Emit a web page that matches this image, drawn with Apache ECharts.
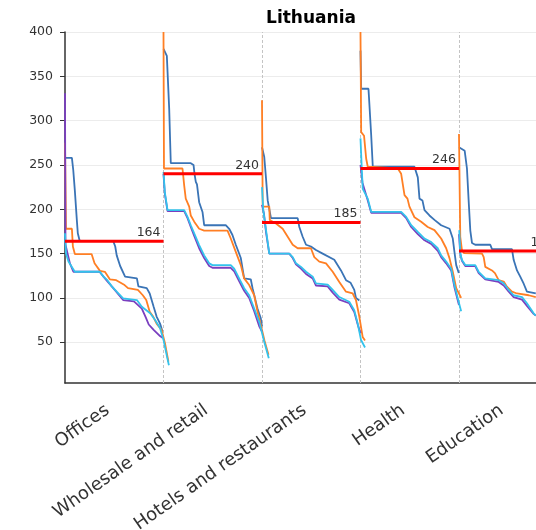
<!DOCTYPE html>
<html>
<head>
<meta charset="utf-8">
<script src="https://cdn.jsdelivr.net/npm/echarts@6/dist/echarts.min.js"></script>
<style>
  html, body { margin: 0; padding: 0; background: #fff; }
  #chart { width: 536px; height: 530px; }
</style>
</head>
<body>
<div id="chart"></div>
<script>
// Sector categories along the x axis; each one owns a band of width 1.
const categories = ['Offices', 'Wholesale and retail', 'Hotels and restaurants', 'Health', 'Education'];

// Reference level drawn as a red bar across each band.
const meanValues = [164, 240, 185, 246, 153];

// Y axis tick labels.
const yTicks = [50, 100, 150, 200, 250, 300, 350, 400];

// Portion of the band axis that fits in the view (the last band runs past the edge).
const visibleBands = 4.782;

// Sorted (duration) curves per sector: [position within band in %, value].
const blueCurves = [
  [[0,258],[7,258],[8.4,244],[10,221],[12,188],[13,173],[15,164],[49,164],[51,158],[52.5,148],[56,136],[61,124],[73,122],[74.5,113],[83,111],[86,105],[90,90],[93,79],[96.5,71],[99,62]],
  [[0,381],[3.4,373],[5.8,313],[7.4,252],[27.7,252],[30.5,250],[31.5,240],[32.8,231],[34,228],[36.2,208],[38,206],[39.6,197],[41.3,182],[63.2,182],[66.7,178],[70,171],[73.4,160],[78.5,145],[81.9,122],[88.6,121],[90.4,111],[95.4,88],[98.8,77],[100,68]],
  [[0,270],[2.3,259],[4,236],[5.8,210],[9.1,190],[36.2,190],[37.9,180],[41.3,169],[44.7,160],[49.7,158],[54.8,154],[61.6,150],[73.4,143],[80.2,131],[85.3,120],[90,117],[93.7,109],[95.4,100],[98.8,97]],
  [[0,379],[0.7,336],[8.1,336],[8.6,327],[10.9,283],[12.5,248],[54.8,248],[58.2,236],[59.9,212],[62.9,210],[65,199],[70,193],[75.1,188],[81.9,182],[90.4,178],[93.7,167],[95.4,152],[97.2,137],[99.8,128]],
  [[0,270],[5.8,266],[8.1,246],[9.8,210],[11.5,176],[13.2,162],[16.5,160],[31.8,160],[33.5,155],[53.8,155],[55.5,143],[58.9,131],[62.2,124],[65.7,116],[69,107],[78,105]]
];

const orangeCurves = [
  [[0,275],[1,178],[7,178],[8,158],[10,149.5],[27,149.5],[30,139],[35.5,130.5],[40.5,129.5],[45.5,121],[52,120],[60.5,114.5],[64,111],[74,109],[79,103],[82.5,97.6],[86,84.5],[89.5,79],[93,71],[98,64],[101.5,49],[105,28]],
  [[0,400],[0.5,246],[19.3,246],[21,227],[22.6,212],[26.1,203],[27.7,193],[31.2,186],[36.2,178],[41.3,176],[65,176],[68.3,167],[73.4,152],[78.5,137],[81.9,122],[87,114.5],[92.1,103],[95.4,84.5],[98.8,69.5],[102.5,52],[106.6,36]],
  [[0,323],[0.7,203],[7.4,203],[7.9,188],[14.2,184],[21,178],[26.1,169],[31.2,160],[36.2,156],[49.7,156],[53.1,146],[58.2,141],[65,139],[71.8,129.5],[78.5,118],[85.3,107],[92.1,105],[95.4,97.6],[98.8,79],[102.2,56],[104.6,52]],
  [[0,400],[0.7,287],[3.6,283],[5.8,257],[7.4,248],[37.9,246],[41.3,240],[44.7,216],[47.7,212],[49.7,203],[54.8,191],[61.6,186],[68.3,180],[75.1,176.5],[81.9,167],[87,156],[90.4,144.6],[93.7,129.5],[97.2,111],[102.2,100]],
  [[0,285],[1.3,169],[3,154],[5,150.6],[23.4,150],[25.1,146],[26.7,135],[33.5,131],[36.5,128],[40.3,120],[45.4,118.5],[48.7,112.6],[53.8,107],[58.9,105],[70.8,103],[78,101]]
];

const purpleCurves = [
  [[0,331],[0.5,160],[5,139],[8.5,129.5],[35,129.5],[42,120],[49,111],[59,97.6],[70,96],[78,88],[82,78],[85,70],[90,64],[96.5,57],[99,55]],
  [[0,240],[1.3,218],[4.1,198],[21,198],[24.4,190],[27.7,180],[31.2,170],[36.2,156],[41.3,145],[46.4,136],[49.7,134],[68.3,134],[71.8,130],[76.8,119],[81.9,108],[87,100],[92.1,85],[97.2,68],[100,62]],
  [[0,205],[2,195],[4.1,174],[7.4,150],[27.7,150],[31.2,145],[34.5,138],[39.6,133],[44.7,127],[51.5,122],[54.8,114],[66.7,113],[71.8,106],[78.5,98],[88.6,94],[93.7,84],[97.2,70],[100,60]],
  [[0,250],[2,230],[7.4,210],[10.9,196],[41.3,196],[46.4,190],[51.5,180],[58.2,172],[65,165],[71.8,161],[78.5,153],[81.9,146],[87,139],[92.1,131],[95.4,112],[98.8,97],[100,92]],
  [[0,172],[1.3,150],[3,142],[6.4,136],[16.5,136],[20,128],[26.7,121],[40.3,118],[45.4,114],[50.5,107],[55.5,101],[64,98],[69,91],[75.8,82],[78,80]]
];

const cyanCurves = [
  [[0,173],[1,150],[3.5,141],[10,129.5],[35.5,129.5],[39,124],[43,120],[47.5,113],[52.5,107],[59,99.5],[73,97.6],[78,90],[86.5,82.6],[91.5,75],[96.5,66],[100,52.6],[103.5,34],[105.5,24]],
  [[0,242],[1.3,219.6],[4.1,199],[21,199],[24.4,191.4],[27.7,182],[31.2,172.7],[36.2,159.6],[41.3,148],[46.4,139],[49.7,137],[68.3,137],[71.8,133],[76.8,122],[81.9,111],[87,103],[92.1,88],[97.2,73],[102.2,50.7],[106.9,32]],
  [[0,225],[1.3,199],[4.1,176.5],[7.4,150],[27.7,150],[31.2,146],[34.5,139],[39.6,135],[44.7,129.5],[51.5,124],[54.8,116.5],[66.7,115],[71.8,109],[78.5,101],[88.6,95.7],[93.7,86],[97.2,71],[100.5,52.6],[104.6,44]],
  [[0,280],[1.3,246],[2.3,223],[7.4,212],[10.9,197],[41.3,197],[46.4,191.4],[51.5,182],[58.2,174.5],[65,167],[71.8,163],[78.5,156],[81.9,148],[87,141],[92.1,133],[95.4,114.5],[98.8,99.5],[102.2,85]],
  [[0.3,176.5],[1.3,150],[3,142.7],[6.4,137],[16.5,137],[20,129.5],[26.7,122],[40.3,120],[45.4,116.5],[50.5,109],[55.5,103],[64,101],[69,94],[75.8,82.6],[78,80]]
];

// Drawing order: later entries sit on top.
const curveSets = [
  { name: 'blue',   color: '#3a74b6', curves: blueCurves },
  { name: 'orange', color: '#ff7f24', curves: orangeCurves },
  { name: 'purple', color: '#7a3fbf', curves: purpleCurves },
  { name: 'cyan',   color: '#33c3ec', curves: cyanCurves }
];

const FONT = 'DejaVu Sans';
const series = [];

curveSets.forEach(function (set) {
  set.curves.forEach(function (pts, i) {
    series.push({
      name: set.name + '-' + categories[i],
      type: 'line',
      data: pts.map(function (p) { return [i + p[0] / 100, p[1]]; }),
      symbol: 'none',
      lineStyle: { color: set.color, width: 1.8 },
      z: 2
    });
  });
});

// Red level bars with their value written above the right end.
meanValues.forEach(function (v, i) {
  const s = {
    name: 'level-' + categories[i],
    type: 'line',
    clip: false,
    symbol: 'circle',
    symbolSize: 0,
    showSymbol: true,
    itemStyle: { color: '#ff0000' },
    data: [
      { value: [i, v], label: { show: false } },
      { value: [i + 1, v] }
    ],
    label: {
      show: true, position: 'top', align: 'right', distance: 2, offset: [-3, 0],
      formatter: String(v), fontFamily: FONT, fontSize: 12.5, color: '#333', opacity: 1
    },
    lineStyle: { color: '#ff0000', width: 3 },
    z: 4
  };
  if (i === 0) {
    // Dashed separators between the sector bands.
    s.markLine = {
      silent: true,
      symbol: 'none',
      label: { show: false },
      lineStyle: { color: '#c4c4c4', type: [3, 2], width: 1 },
      data: [1, 2, 3, 4].map(function (b) { return { xAxis: b }; }),
      z: 1
    };
  }
  series.push(s);
});

const chart = echarts.init(document.getElementById('chart'), null, { renderer: 'canvas' });
chart.setOption({
  animation: false,
  backgroundColor: '#ffffff',
  title: {
    text: 'Lithuania',
    left: 311,
    top: 10,
    textAlign: 'center',
    padding: 0,
    textStyle: { fontFamily: FONT, fontSize: 17, fontWeight: 'bold', color: '#000' }
  },
  grid: { left: 65, top: 32, right: 0, bottom: 147, containLabel: false, outerBoundsMode: 'none' },
  xAxis: {
    type: 'value',
    min: 0,
    max: visibleBands,
    axisLine: { show: true, lineStyle: { color: '#333', width: 1.5 } },
    axisTick: { show: false },
    splitLine: { show: false },
    axisLabel: {
      customValues: categories.map(function (c, i) { return i + 0.5; }),
      formatter: function (v) { return categories[Math.floor(v)]; },
      rotate: 35,
      margin: 21,
      padding: [0, 8, 0, 0],
      fontFamily: FONT,
      fontSize: 18,
      color: '#333'
    }
  },
  yAxis: {
    type: 'value',
    min: 4,
    max: 400,
    axisLine: { show: true, lineStyle: { color: '#333', width: 1.5 } },
    axisTick: { show: true, inside: false, length: 5, customValues: yTicks, lineStyle: { color: '#333' } },
    axisLabel: {
      customValues: yTicks,
      margin: 12,
      fontFamily: FONT,
      fontSize: 12.5,
      color: '#333'
    },
    splitLine: { show: true, lineStyle: { color: '#ececec', width: 1 } }
  },
  series: series
});
</script>
</body>
</html>
